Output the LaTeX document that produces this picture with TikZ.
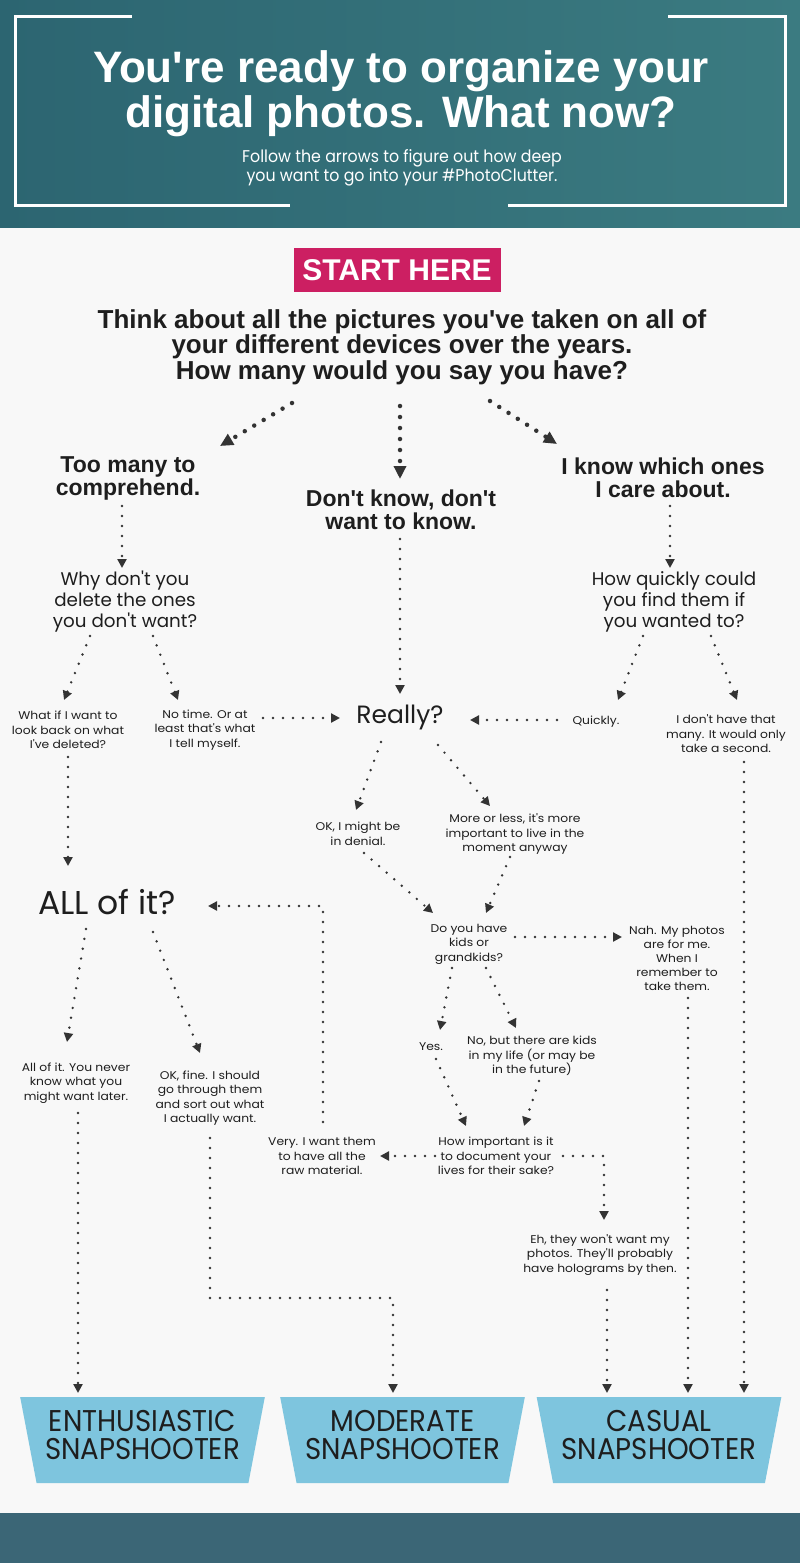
\documentclass[tikz,border=0pt]{standalone}
\usepackage{fontspec}
\setmainfont{Liberation Sans}[Ligatures=TeXOff]
\newfontfamily\futura{Poppins}[Ligatures=TeXOff]
\newfontfamily\replyfont{Poppins}[Ligatures=TeXOff, FakeStretch=1.1]
\newfontfamily\slimfont{Poppins}[Ligatures=TeXOff, FakeStretch=0.93]
\newfontfamily\capsfont{Poppins}[Ligatures=TeXOff, FakeStretch=0.92]
\usetikzlibrary{arrows.meta}
\usetikzlibrary{shapes.geometric}
\usetikzlibrary{positioning}
\definecolor{headL}{HTML}{2C6571}
\definecolor{headR}{HTML}{3B7B81}
\definecolor{footbg}{HTML}{3B6676}
\definecolor{paper}{HTML}{F8F8F8}
\definecolor{pinkbox}{HTML}{CC1F62}
\definecolor{trapblue}{HTML}{7EC5DE}
\definecolor{ink}{HTML}{1E1E1E}
\definecolor{dotink}{HTML}{333333}
\tikzstyle{branch}=[font=\bfseries\fontsize{23}{23}\selectfont, align=center, text=ink]
\tikzstyle{ask}=[font=\futura\fontsize{18.3}{21}\selectfont, align=center, text=ink]
\tikzstyle{reply}=[font=\replyfont\fontsize{11.2}{14.5}\selectfont, align=center, text=ink]
\tikzstyle{hop}=[draw=dotink, line width=2.7pt, line cap=round, dash pattern=on 0pt off 10pt, -{Triangle[length=9pt,width=9pt]}]
\tikzstyle{bighop}=[hop, line width=4.5pt, dash pattern=on 0pt off 11pt, -{Triangle[length=13pt,width=12pt]}]
\tikzstyle{snapper}=[trapezium, trapezium stretches=true, trapezium angle=75.7, shape border rotate=180, fill=trapblue, minimum width=245pt, minimum height=86pt, inner sep=0pt, text depth=10pt, font=\capsfont\fontsize{30}{28}\selectfont, align=center, text=ink]

\begin{document}
\begin{tikzpicture}[x=1pt, y=-1pt]
\useasboundingbox (0,0) rectangle (800,1563);
% header
\shade[left color=headL, right color=headR] (0,0) rectangle (800,228);
\draw[white, line width=3pt] (132,17) -- (15,17) -- (15,205) -- (290,205);
\draw[white, line width=3pt] (668,17) -- (785,17) -- (785,205) -- (508,205);
\node[font=\bfseries\fontsize{44}{45}\selectfont, text=white, align=center] (title) at (401,94)
  {You're ready to organize your\\digital photos. What now?};
\node[font=\slimfont\fontsize{17}{17}\selectfont, text=white, align=center] (sub) at (402,168)
  {Follow the arrows to figure out how deep\\you want to go into your \#PhotoClutter.};
% body and footer
\fill[paper] (0,228) rectangle (800,1513);
\fill[footbg] (0,1513) rectangle (800,1563);

\node[fill=pinkbox, minimum width=207pt, minimum height=44pt, text=white, font=\bfseries\fontsize{30}{30}\selectfont] (start) at (397,270) {START HERE};
\node[font=\bfseries\fontsize{26}{25.5}\selectfont, align=center, text=ink] (think) at (402,347)
  {Think about all the pictures you've taken on all of\\your different devices over the years.\\How many would you say you have?};

\node[branch] (toomany) at (128,478) {Too many to\\comprehend.};
\node[branch] (dontknow) at (401,510) {Don't know, don't\\want to know.};
\node[branch] (iknow) at (663,478) {I know which ones\\I care about.};

\node[ask] (whydel) at (125,602) {Why don't you\\delete the ones\\you don't want?};
\node[ask] (howquick) at (674,602) {How quickly could\\you find them if\\you wanted to?};

\node[reply] (whatif) at (68,730) {What if I want to\\look back on what\\I've deleted?};
\node[reply] (notime) at (205,730) {No time. Or at\\least that's what\\I tell myself.};
\node[font=\futura\fontsize{25}{30}\selectfont, text=ink] (really) at (400,717) {Really?};
\node[reply] (quickly) at (596,722) {Quickly.};
\node[reply] (nothave) at (726,734) {I don't have that\\many. It would only\\take a second.};

\node[reply] (okdenial) at (358,834) {OK, I might be\\in denial.};
\node[reply] (moreless) at (515,834) {More or less, it's more\\important to live in the\\moment anyway};
\node[reply] (kids) at (469,944) {Do you have\\kids or\\grandkids?};
\node[reply, font=\replyfont\fontsize{11.2}{14}\selectfont] (nah) at (677,958) {Nah. My photos\\are for me.\\When I\\remember to\\take them.};
\node[reply] (yes) at (431,1047) {Yes.};
\node[reply] (nobut) at (532,1056) {No, but there are kids\\in my life (or may be\\in the future)};
\node[reply] (howimp) at (496,1156) {How important is it\\to document your\\lives for their sake?};
\node[reply] (very) at (322,1156) {Very. I want them\\to have all the\\raw material.};
\node[reply] (eh) at (600,1255) {Eh, they won't want my\\photos. They'll probably\\have holograms by then.};

\node[font=\futura\fontsize{33}{34}\selectfont, text=ink] (allof) at (107,902) {ALL of it?};
\node[reply] (alllater) at (76,1083) {All of it. You never\\know what you\\might want later.};
\node[reply] (okfine) at (210,1098) {OK, fine. I should\\go through them\\and sort out what\\I actually want.};

\node[snapper] (enth) at (142.5,1440) {ENTHUSIASTIC\\SNAPSHOOTER};
\node[snapper] (mod) at (402.5,1440) {MODERATE\\SNAPSHOOTER};
\node[snapper] (casual) at (659,1440) {CASUAL\\SNAPSHOOTER};

% first answers
\draw[bighop] ([shift={(-110,56)}]think.center) -- ([shift={(92,-32)}]toomany.center);
\draw[bighop] ([shift={(-2,59)}]think.center) -- ([shift={(-1,-31)}]dontknow.center);
\draw[bighop] ([shift={(88,54)}]think.center) -- ([shift={(-106,-34)}]iknow.center);

\draw[hop] ([shift={(-6,28)}]toomany.center) -- ([shift={(-3,-34)}]whydel.center);
\draw[hop] ([shift={(7,28)}]iknow.center) -- ([shift={(-4,-34)}]howquick.center);
\draw[hop] ([shift={(-35,34)}]whydel.center) -- ([shift={(-4,-30)}]whatif.center);
\draw[hop] ([shift={(28,34)}]whydel.center) -- ([shift={(-27,-30)}]notime.center);
\draw[hop] ([shift={(58,-12)}]notime.center) -- ([shift={(-60,1)}]really.center);
\draw[hop] ([shift={(-1,29)}]dontknow.center) -- ([shift={(0,-23)}]really.center);
\draw[hop] ([shift={(-39,-2)}]quickly.center) -- ([shift={(70,3)}]really.center);
\draw[hop] ([shift={(-31,34)}]howquick.center) -- ([shift={(22,-22)}]quickly.center);
\draw[hop] ([shift={(37,34)}]howquick.center) -- ([shift={(11,-34)}]nothave.center);
\draw[hop] ([shift={(18,28)}]nothave.center) -- ([shift={(85,-47)}]casual.center);

% really?
\draw[hop] ([shift={(-19,25)}]really.center) -- ([shift={(-2,-24)}]okdenial.center);
\draw[hop] ([shift={(38,28)}]really.center) -- ([shift={(-25,-28)}]moreless.center);
\draw[hop] ([shift={(6,19)}]okdenial.center) -- ([shift={(-36,-31)}]kids.center);
\draw[hop] ([shift={(-5,23)}]moreless.center) -- ([shift={(17,-31)}]kids.center);
\draw[hop] ([shift={(46,-7)}]kids.center) -- ([shift={(-55,-21)}]nah.center);
\draw[hop] ([shift={(11,40)}]nah.center) -- ([shift={(29,-47)}]casual.center);
\draw[hop] ([shift={(-17,24)}]kids.center) -- ([shift={(9,-17)}]yes.center);
\draw[hop] ([shift={(17,24)}]kids.center) -- ([shift={(-16,-28)}]nobut.center);
\draw[hop] ([shift={(5,12)}]yes.center) -- ([shift={(-30,-30)}]howimp.center);
\draw[hop] ([shift={(7,25)}]nobut.center) -- ([shift={(28,-30)}]howimp.center);
\draw[hop] ([shift={(-61,0)}]howimp.center) -- ([shift={(58,0)}]very.center);
\draw[hop] ([shift={(67,0)}]howimp.center) -| ([shift={(4,-35)}]eh.center);
\draw[hop] ([shift={(7,35)}]eh.center) -- ([shift={(-52,-47)}]casual.center);
\draw[hop] ([shift={(1,-34)}]very.center) |- ([shift={(101,4)}]allof.center);

% all of it?
\draw[hop] ([shift={(0,27)}]whatif.center) -- ([shift={(-39,-36)}]allof.center);
\draw[hop] ([shift={(-21,27)}]allof.center) -- ([shift={(-9,-41)}]alllater.center);
\draw[hop] ([shift={(46,30)}]allof.center) -- ([shift={(-10,-45)}]okfine.center);
\draw[hop] ([shift={(2,30)}]alllater.center) -- ([shift={(-64.5,-47)}]enth.center);
\draw[hop] ([shift={(0,40)}]okfine.center) -- ([shift={(0,200)}]okfine.center) -| ([shift={(-9.5,-47)}]mod.center);
\end{tikzpicture}
\end{document}
